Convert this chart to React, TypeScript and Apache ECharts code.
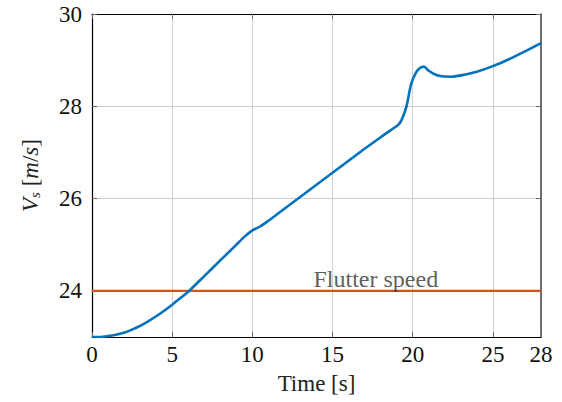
import React, { useEffect, useRef } from "react";
import * as echarts from "echarts";

const times = [0, 0.5, 1, 1.5, 2, 2.5, 3, 3.5, 4, 4.5, 5, 5.5, 6, 7, 8, 9, 9.5, 10, 10.5, 11, 11.5, 12, 13, 14, 15, 16, 17, 18, 19.1, 19.3, 19.6, 19.9, 20.2, 20.45, 20.7, 21.0, 21.4, 21.8, 22.4, 23, 24, 25, 26, 27, 28];
const speeds = [23.0, 23.0, 23.02, 23.05, 23.09, 23.16, 23.24, 23.34, 23.45, 23.57, 23.7, 23.84, 23.98, 24.32, 24.66, 25.0, 25.17, 25.31, 25.4, 25.52, 25.65, 25.78, 26.04, 26.3, 26.56, 26.82, 27.08, 27.33, 27.6, 27.7, 27.98, 28.48, 28.73, 28.83, 28.86, 28.77, 28.69, 28.65, 28.64, 28.67, 28.75, 28.87, 29.02, 29.19, 29.37];
const flutterTimes = [0, 28];
const flutterSpeed = [24, 24];
const flutterLabel = "Flutter speed";
const flutterLabelAt = [17.7, 24];
const xTicks = [0, 5, 10, 15, 20, 25, 28];
const yTicks = [24, 26, 28, 30];

const FONT = "'Liberation Serif', serif";

export default function App() {
  const ref = useRef<HTMLDivElement>(null);
  useEffect(() => {
    const chart = echarts.init(ref.current!, null, { renderer: "svg" });
    const tickStyle = { show: true, inside: true, length: 5, lineStyle: { color: "#666", width: 1 } };
    chart.setOption({
      animation: false,
      grid: { left: 92, right: 21, top: 14, bottom: 65, containLabel: false, outerBoundsMode: "none" },
      xAxis: [
        {
          type: "value",
          min: 0,
          max: 28,
          name: "Time [s]",
          nameLocation: "middle",
          nameGap: 35,
          nameTextStyle: { fontFamily: FONT, fontSize: 23, color: "#222" },
          axisLine: { show: true, onZero: false, lineStyle: { color: "#000", width: 1.2 } },
          axisTick: { ...tickStyle, customValues: xTicks },
          axisLabel: { customValues: xTicks, fontFamily: FONT, fontSize: 23, color: "#111", margin: 6 },
          splitLine: { show: true, lineStyle: { color: "#cfcfcf", width: 1 } },
        },
        {
          type: "value",
          position: "top",
          min: 0,
          max: 28,
          axisLine: { show: true, onZero: false, lineStyle: { color: "#000", width: 1.2 } },
          axisTick: { ...tickStyle, customValues: xTicks },
          axisLabel: { show: false },
          splitLine: { show: false },
        },
      ],
      yAxis: [
        {
          type: "value",
          min: 23,
          max: 30,
          name: "{i|V}{sub|s} [{i|m}/{i|s}]",
          nameLocation: "middle",
          nameRotate: 90,
          nameGap: 50,
          nameTextStyle: {
            fontFamily: FONT,
            fontSize: 23,
            color: "#222",
            rich: {
              i: { fontFamily: FONT, fontStyle: "italic", fontSize: 23, color: "#222" },
              sub: { fontFamily: FONT, fontStyle: "italic", fontSize: 15, color: "#222", padding: [8, 0, 0, 0] },
            },
          },
          axisLine: { show: true, onZero: false, lineStyle: { color: "#000", width: 1.2 } },
          axisTick: { ...tickStyle, customValues: yTicks },
          axisLabel: { customValues: yTicks, fontFamily: FONT, fontSize: 23, color: "#111", margin: 10 },
          splitLine: { show: true, lineStyle: { color: "#cfcfcf", width: 1 } },
        },
        {
          type: "value",
          position: "right",
          min: 23,
          max: 30,
          axisLine: { show: true, onZero: false, lineStyle: { color: "#444", width: 1.5 } },
          axisTick: { ...tickStyle, customValues: yTicks },
          axisLabel: { show: false },
          splitLine: { show: false },
        },
      ],
      series: [
        {
          type: "line",
          data: flutterTimes.map((t, i) => [t, flutterSpeed[i]]),
          showSymbol: false,
          lineStyle: { color: "#D95319", width: 2.2 },
          z: 3,
        },
        {
          type: "line",
          data: times.map((t, i) => [t, speeds[i]]),
          showSymbol: false,
          smooth: 0.25,
          lineStyle: { color: "#0072BD", width: 2.6 },
          z: 4,
        },
        {
          type: "scatter",
          data: [flutterLabelAt],
          symbolSize: 0,
          silent: true,
          label: {
            show: true,
            position: "top",
            distance: 0,
            formatter: flutterLabel,
            fontFamily: FONT,
            fontSize: 24,
            color: "#333",
          },
          z: 5,
        },
      ],
    });
    return () => chart.dispose();
  }, []);
  return <div ref={ref} style={{ position: "absolute", left: 0, top: 0, width: 562, height: 402 }} />;
}
